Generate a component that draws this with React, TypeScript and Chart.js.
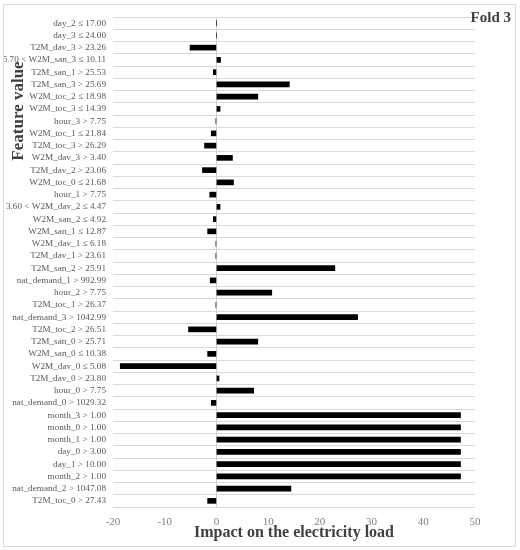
import React, { useEffect, useRef } from "react";
import { Chart, registerables } from "chart.js";

Chart.register(...registerables);

const categories: string[] = [
  "day_2 ≤ 17.00",
  "day_3 ≤ 24.00",
  "T2M_dav_3 > 23.26",
  "5.70 < W2M_san_3 ≤ 10.11",
  "T2M_san_1 > 25.53",
  "T2M_san_3 > 25.69",
  "W2M_toc_2 ≤ 18.98",
  "W2M_toc_3 ≤ 14.39",
  "hour_3 > 7.75",
  "W2M_toc_1 ≤ 21.84",
  "T2M_toc_3 > 26.29",
  "W2M_dav_3 > 3.40",
  "T2M_dav_2 > 23.06",
  "W2M_toc_0 ≤ 21.68",
  "hour_1 > 7.75",
  "3.60 < W2M_dav_2 ≤ 4.47",
  "W2M_san_2 ≤ 4.92",
  "W2M_san_1 ≤ 12.87",
  "W2M_dav_1 ≤ 6.18",
  "T2M_dav_1 > 23.61",
  "T2M_san_2 > 25.91",
  "nat_demand_1 > 992.99",
  "hour_2 > 7.75",
  "T2M_toc_1 > 26.37",
  "nat_demand_3 > 1042.99",
  "T2M_toc_2 > 26.51",
  "T2M_san_0 > 25.71",
  "W2M_san_0 ≤ 10.38",
  "W2M_dav_0 ≤ 5.08",
  "T2M_dav_0 > 23.80",
  "hour_0 > 7.75",
  "nat_demand_0 > 1029.32",
  "month_3 > 1.00",
  "month_0 > 1.00",
  "month_1 > 1.00",
  "day_0 > 3.00",
  "day_1 > 10.00",
  "month_2 > 1.00",
  "nat_demand_2 > 1047.08",
  "T2M_toc_0 > 27.43",
];

const impactValues: number[] = [
  0, 0, -5.1, 0.8, -0.6, 14.1, 8.0, 0.7, -0.1, -1.0,
  -2.3, 3.1, -2.7, 3.3, -1.3, 0.7, -0.6, -1.7, -0.1, -0.1,
  22.9, -1.2, 10.7, -0.1, 27.3, -5.4, 8.0, -1.7, -18.6, 0.5,
  7.2, -1.0, 47.2, 47.2, 47.2, 47.2, 47.2, 47.2, 14.4, -1.7,
];

const xMin = -20;
const xMax = 50;
const xStep = 10;

const xTitle = "Impact on the electricity load";
const yTitle = "Feature value";
const foldLabel = "Fold 3";

const FONT = "'Liberation Serif', 'DejaVu Serif', serif";

const textPlugin = {
  id: "customTexts",
  afterDraw(chart: any) {
    const ctx = chart.ctx;
    const area = chart.chartArea;
    ctx.save();
    ctx.fillStyle = "#404040";
    ctx.textAlign = "center";
    ctx.textBaseline = "middle";
    ctx.font = `bold 16px ${FONT}`;
    ctx.fillText(xTitle, (area.left + area.right) / 2, 533);
    ctx.save();
    ctx.translate(19, 111);
    ctx.rotate(-Math.PI / 2);
    ctx.font = `bold 17px ${FONT}`;
    ctx.fillText(yTitle, 0, 0);
    ctx.restore();
    ctx.font = `bold 15px ${FONT}`;
    ctx.textAlign = "right";
    ctx.fillText(foldLabel, 511, 18);
    ctx.restore();
  },
};

export default function App() {
  const canvasRef = useRef<HTMLCanvasElement | null>(null);

  useEffect(() => {
    if (!canvasRef.current) return;
    const chart = new Chart(canvasRef.current, {
      type: "bar",
      data: {
        labels: categories,
        datasets: [
          {
            data: impactValues,
            backgroundColor: "#000000",
            borderWidth: 0,
            barThickness: 5,
          },
        ],
      },
      options: {
        indexAxis: "y",
        responsive: false,
        animation: false,
        layout: { padding: { top: 17, right: 45, bottom: 0, left: 0 } },
        plugins: {
          legend: { display: false },
          tooltip: { enabled: false },
          title: { display: false },
        },
        scales: {
          x: {
            type: "linear",
            min: xMin,
            max: xMax,
            ticks: {
              stepSize: xStep,
              padding: 9,
              color: "#7f7f7f",
              font: { family: FONT, size: 11 },
            },
            grid: {
              drawTicks: false,
              color: (c: any) => (c.tick && c.tick.value === 0 ? "#d0d0d0" : "rgba(0,0,0,0)"),
              lineWidth: 1,
            },
            border: { display: false },
            afterFit: (scale: any) => {
              scale.height = 43;
            },
          },
          y: {
            type: "category",
            ticks: {
              autoSkip: false,
              padding: 7,
              color: "#595959",
              font: { family: FONT, size: 9.2 },
            },
            grid: {
              drawTicks: false,
              color: "#d9d9d9",
              lineWidth: 1,
            },
            border: { display: false },
            afterFit: (scale: any) => {
              scale.width = 113;
            },
          },
        },
      },
      plugins: [textPlugin],
    } as any);
    return () => chart.destroy();
  }, []);

  return (
    <div
      style={{
        position: "fixed",
        left: 0,
        top: 0,
        width: 520,
        height: 550,
        background: "#ffffff",
      }}
    >
      <canvas ref={canvasRef} width={520} height={550} style={{ position: "absolute", left: 0, top: 0 }} />
      <div
        style={{
          position: "absolute",
          left: 3,
          top: 4,
          width: 511,
          height: 541,
          border: "1px solid #d9d9d9",
          pointerEvents: "none",
        }}
      />
    </div>
  );
}
